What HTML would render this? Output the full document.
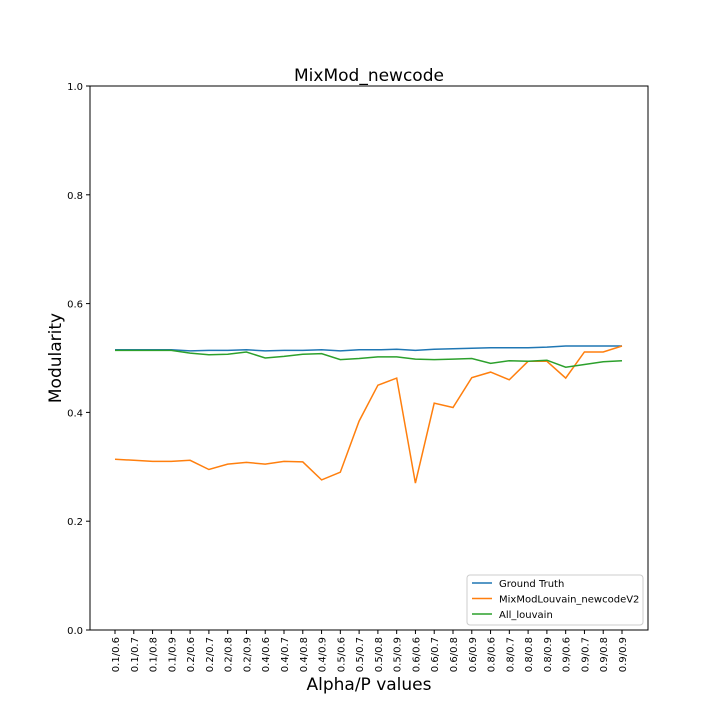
<!DOCTYPE html>
<html><head><meta charset="utf-8"><style>
body{margin:0;background:#fff;}
svg text{font-family:"DejaVu Sans","Liberation Sans",sans-serif;}
</style></head><body>
<svg id="chart" width="720" height="720"></svg>
<script>
const categories=["0.1/0.6","0.1/0.7","0.1/0.8","0.1/0.9","0.2/0.6","0.2/0.7","0.2/0.8","0.2/0.9","0.4/0.6","0.4/0.7","0.4/0.8","0.4/0.9","0.5/0.6","0.5/0.7","0.5/0.8","0.5/0.9","0.6/0.6","0.6/0.7","0.6/0.8","0.6/0.9","0.8/0.6","0.8/0.7","0.8/0.8","0.8/0.9","0.9/0.6","0.9/0.7","0.9/0.8","0.9/0.9"];
const groundTruth=[0.515,0.515,0.515,0.515,0.513,0.514,0.514,0.515,0.513,0.514,0.514,0.515,0.513,0.515,0.515,0.516,0.514,0.516,0.517,0.518,0.519,0.519,0.519,0.520,0.522,0.522,0.522,0.522];
const mixMod=[0.314,0.312,0.310,0.310,0.312,0.295,0.305,0.308,0.305,0.310,0.309,0.276,0.290,0.384,0.450,0.463,0.270,0.417,0.409,0.464,0.474,0.460,0.494,0.494,0.463,0.511,0.511,0.522];
const allLouvain=[0.514,0.514,0.514,0.514,0.509,0.506,0.507,0.511,0.500,0.503,0.507,0.508,0.497,0.499,0.502,0.502,0.498,0.497,0.498,0.499,0.490,0.495,0.494,0.496,0.483,0.488,0.493,0.495];
const yTicks=[0,0.2,0.4,0.6,0.8,1.0];
const yTickLabels=["0.0","0.2","0.4","0.6","0.8","1.0"];
const L=90,R=648,T=86,B=630;
const x0=115,x1=622;
const xs=i=>x0+(x1-x0)*i/(categories.length-1);
const ys=v=>B-(B-T)*v;
const svg=document.getElementById('chart');
const NS="http://www.w3.org/2000/svg";
function mk(t,a,txt){const e=document.createElementNS(NS,t);for(const k in a)e.setAttribute(k,a[k]);if(txt!==undefined)e.textContent=txt;svg.appendChild(e);return e;}
let e;
e=mk('rect',{x:L,y:T,width:R-L,height:B-T,fill:'#fff',stroke:'#000','stroke-width':1});


e=mk('text',{x:369,y:81,'text-anchor':'middle','font-size':17},'MixMod_newcode');


e=mk('text',{x:369,y:690,'text-anchor':'middle','font-size':17},'Alpha/P values');


e=mk('text',{x:61,y:358,'text-anchor':'middle','font-size':17,transform:'rotate(-90 61 358)'},'Modularity');


yTicks.forEach((v,i)=>{
 e=mk('line',{x1:L-4,x2:L,y1:ys(v),y2:ys(v),stroke:'#000'});
 
 
 e=mk('text',{x:L-7,y:ys(v)+4,'text-anchor':'end','font-size':10},yTickLabels[i]);
 
 
});
categories.forEach((c,i)=>{
 const x=xs(i);
 e=mk('line',{x1:x,x2:x,y1:B,y2:B+4,stroke:'#000'});
 
 
 e=mk('text',{x:x+4,y:B+7,'text-anchor':'end','font-size':10,transform:`rotate(-90 ${x+4} ${B+7})`},c);
 
 
});
function line(arr,color,name){
 const p=arr.map((v,i)=>xs(i).toFixed(1)+','+ys(v).toFixed(1)).join(' ');
 const el=mk('polyline',{points:p,fill:'none',stroke:color,'stroke-width':1.5});
 
 
}
line(groundTruth,'#1f77b4','ground-truth-line');
line(mixMod,'#ff7f0e','mixmod-line');
line(allLouvain,'#2ca02c','all-louvain-line');
e=mk('rect',{x:467,y:575,width:176,height:50,fill:'#fff',stroke:'#ccc',rx:3});


[['Ground Truth','#1f77b4'],['MixModLouvain_newcodeV2','#ff7f0e'],['All_louvain','#2ca02c']].forEach((d,i)=>{
 const y=583+i*15.5;
 e=mk('line',{x1:472,x2:492,y1:y,y2:y,stroke:d[1],'stroke-width':1.5});
 
 
 e=mk('text',{x:499,y:y+4,'font-size':10},d[0]);
 
 
});
</script>
</body></html>
